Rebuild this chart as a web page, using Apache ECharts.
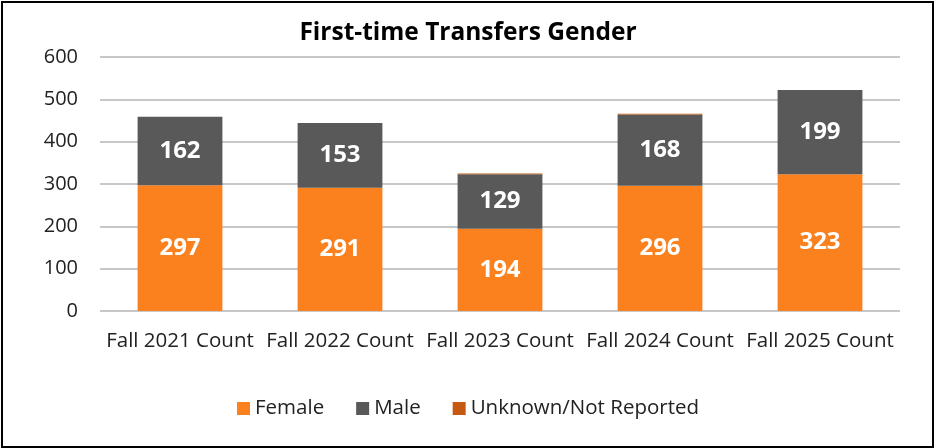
<!DOCTYPE html>
<html>
<head>
<meta charset="utf-8">
<script src="https://cdn.jsdelivr.net/npm/echarts@6/dist/echarts.min.js"></script>
<style>
  html, body { margin: 0; padding: 0; background: #fff; }
  #frame { position: absolute; left: 1px; top: 1px; width: 929px; height: 443px; border: 2px solid #000; }
  #main { position: absolute; left: 0; top: 0; width: 936px; height: 448px; }
</style>
</head>
<body>
<div id="frame"></div>
<div id="main"></div>
<script>
const categories = ["Fall 2021 Count", "Fall 2022 Count", "Fall 2023 Count", "Fall 2024 Count", "Fall 2025 Count"];
const female = [297, 291, 194, 296, 323];
const male = [162, 153, 129, 168, 199];
const unknown = [0, 0, 2, 2, 0];

const font = "'Open Sans', sans-serif";

const chart = echarts.init(document.getElementById("main"), null, { renderer: "canvas" });

const barLabel = {
  show: true,
  position: "inside",
  color: "#fff",
  fontFamily: font,
  fontWeight: "bold",
  fontSize: 24,
};

chart.setOption({
  animation: false,
  title: {
    text: "First-time Transfers Gender",
    left: "center",
    top: 16,
    textStyle: { fontFamily: font, fontWeight: "bold", fontSize: 24.5, color: "#000" },
  },
  legend: {
    bottom: 24,
    left: "center",
    itemWidth: 13,
    itemHeight: 13,
    itemGap: 32,
    icon: "rect",
    textStyle: { fontFamily: font, fontSize: 20.5, color: "#222" },
    data: ["Female", "Male", "Unknown/Not Reported"],
  },
  grid: { left: 100, right: 36, top: 57, bottom: 137 },
  xAxis: {
    type: "category",
    data: categories,
    axisLine: { show: false },
    axisTick: { show: false },
    axisLabel: { interval: 0, fontFamily: font, fontSize: 20.5, color: "#222", margin: 20 },
  },
  yAxis: {
    type: "value",
    min: 0,
    max: 600,
    interval: 100,
    axisLabel: { fontFamily: font, fontSize: 20, color: "#222", margin: 22 },
    splitLine: { lineStyle: { color: "#c8c8c8", width: 2 } },
  },
  series: [
    {
      name: "Female",
      type: "bar",
      stack: "total",
      barWidth: "53%",
      itemStyle: { color: "#fb801e" },
      label: barLabel,
      data: female,
    },
    {
      name: "Male",
      type: "bar",
      stack: "total",
      itemStyle: { color: "#595959" },
      label: barLabel,
      data: male,
    },
    {
      name: "Unknown/Not Reported",
      type: "bar",
      stack: "total",
      itemStyle: { color: "#c65911" },
      label: { show: false },
      data: unknown,
    },
  ],
});
</script>
</body>
</html>
